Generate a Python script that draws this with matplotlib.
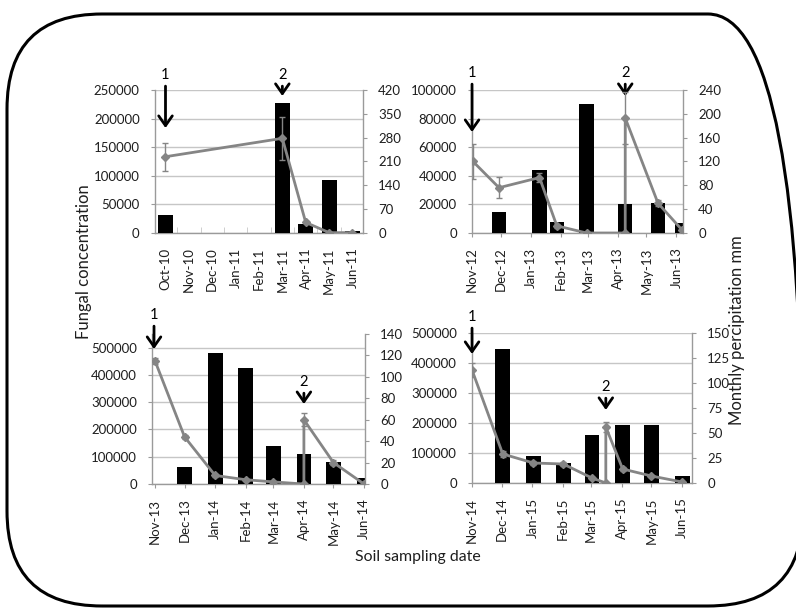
import matplotlib
matplotlib.use("Agg")
import matplotlib.pyplot as plt
import matplotlib.dates as mdates
from matplotlib.patches import FancyBboxPatch
from matplotlib.ticker import MultipleLocator, StrMethodFormatter, FixedLocator
import numpy as np
import pandas as pd

plt.rcParams['font.family'] = ['Lato', 'DejaVu Sans']

# --- panel 1: Oct-10 .. Jun-11 (category axis)
p1_months = ["Oct-10", "Nov-10", "Dec-10", "Jan-11", "Feb-11",
             "Mar-11", "Apr-11", "May-11", "Jun-11"]
p1_fungal = [32000, 0, 0, 0, 0, 227000, 15000, 93000, 3000]
p1_rain = [224, None, None, None, None, 278, 31, 1, 1]
p1_rain_err = [41, None, None, None, None, 64, 3, 0, 0]
p1_events = [("1", 0), ("2", 5)]

# --- panel 2: Nov-12 .. Jun-13 (date axis)
p2_bar_dates = ["2012-11-29", "2013-01-10", "2013-01-28", "2013-02-28",
                "2013-04-09", "2013-05-13", "2013-06-07"]
p2_fungal = [14500, 44000, 7700, 90000, 20000, 21000, 7200]
p2_rain_dates = ["2012-11-02", "2012-11-29", "2013-01-10", "2013-01-28",
                 "2013-02-28", "2013-04-09", "2013-04-09", "2013-05-13",
                 "2013-06-07"]
p2_rain = [120, 76, 93, 12, 0, 0, 193, 50, 5]
p2_rain_err = [30, 18, 8, 3, 0, 0, 44, 5, 1]
p2_events = [("1", "2012-11-01"), ("2", "2013-04-09")]

# --- panel 3: Nov-13 .. Jun-14
p3_bar_dates = ["2013-12-01", "2014-01-01", "2014-02-01", "2014-03-01",
                "2014-04-01", "2014-05-01", "2014-06-01"]
p3_fungal = [62000, 480000, 425000, 140000, 109000, 82000, 22000]
p3_rain_dates = ["2013-11-01", "2013-12-01", "2014-01-01", "2014-02-01",
                 "2014-03-01", "2014-04-01", "2014-04-01", "2014-05-01",
                 "2014-06-01"]
p3_rain = [115, 44, 8, 4, 2, 0, 60, 20, 0]
p3_rain_err = [3, 2, 1, 1, 1, 0, 6, 2, 0]
p3_events = [("1", "2013-10-31"), ("2", "2014-04-01")]

# --- panel 4: Nov-14 .. Jun-15
p4_bar_dates = ["2014-12-02", "2015-01-02", "2015-02-01", "2015-03-02",
                "2015-04-02", "2015-05-01", "2015-06-01"]
p4_fungal = [448000, 90000, 68000, 161000, 192000, 192000, 24000]
p4_rain_dates = ["2014-11-01", "2014-12-02", "2015-01-02", "2015-02-01",
                 "2015-03-02", "2015-03-16", "2015-03-16", "2015-04-02",
                 "2015-05-01", "2015-06-01"]
p4_rain = [113, 29, 20, 19, 5, 0, 56, 14, 7, 1]
p4_rain_err = [7, 3, 2, 2, 1, 0, 5, 2, 1, 0]
p4_events = [("1", "2014-11-01"), ("2", "2015-03-16")]

GRID = "#c6c6c6"
AXC = "#9a9a9a"
LINEC = "#858585"
TXT = "#1e1e1e"
FS = 9.5

fig = plt.figure(figsize=(7.96, 6.08), dpi=100)

# rounded frame
frame = FancyBboxPatch((0.07, 0.02), 7.96, 5.92,
                       boxstyle="round,pad=0,rounding_size=0.95",
                       transform=fig.dpi_scale_trans, fill=False,
                       ec="black", lw=2.2, clip_on=False)
fig.add_artist(frame)


def make_panel(rect, ymax, ystep, y2max, y2step):
    ax = fig.add_axes(rect)
    ax2 = ax.twinx()
    ax.set_ylim(0, ymax)
    ax2.set_ylim(0, y2max)
    ax.yaxis.set_major_locator(MultipleLocator(ystep))
    ax2.yaxis.set_major_locator(MultipleLocator(y2step))
    ax.yaxis.set_major_formatter(StrMethodFormatter("{x:.0f}"))
    ax2.yaxis.set_major_formatter(StrMethodFormatter("{x:.0f}"))
    ax.yaxis.grid(True, color=GRID, lw=1)
    ax.set_axisbelow(True)
    for a in (ax, ax2):
        a.spines["top"].set_visible(False)
        for s in a.spines.values():
            s.set_color(AXC)
            s.set_linewidth(1)
    ax.spines["right"].set_visible(False)
    ax2.spines["left"].set_visible(False)
    ax2.spines["bottom"].set_visible(False)
    ax.tick_params(axis="y", direction="out", length=3, pad=8, color=AXC,
                   labelsize=FS, labelcolor=TXT)
    ax2.tick_params(axis="y", direction="out", length=3, pad=8, color=AXC,
                    labelsize=FS, labelcolor=TXT)
    return ax, ax2


def draw_line(ax2, x, y, err):
    ax2.errorbar(x, y, yerr=err, fmt="-D", color=LINEC, ecolor=LINEC,
                 lw=2, ms=4.5, elinewidth=1, capsize=2, zorder=4)


def mark_events(ax2, events, ytext, ytip):
    for (lab, x), yt, yp in zip(events, ytext, ytip):
        ax2.annotate(lab, xy=(x, yp), xytext=(x, yt),
                     xycoords=("data", "axes fraction"),
                     textcoords=("data", "axes fraction"),
                     ha="center", va="center", fontsize=10.5, color="black",
                     annotation_clip=False,
                     arrowprops=dict(arrowstyle="->,head_length=0.5,head_width=0.35",
                                     color="black", lw=2, shrinkA=1, shrinkB=0,
                                     mutation_scale=14))


def date_axis(ax, x0, x1):
    ax.set_xlim(pd.Timestamp(x0), pd.Timestamp(x1))
    ax.xaxis.set_major_locator(mdates.MonthLocator())
    ax.xaxis.set_major_formatter(mdates.DateFormatter("%b-%y"))
    ax.tick_params(axis="x", direction="out", length=3, pad=7.5, color=AXC,
                   labelsize=FS, labelcolor=TXT, labelrotation=90)


# panel 1
ax, ax2 = make_panel([0.1947, 0.6168, 0.2613, 0.2352], 250000, 50000, 420, 70)
xc = np.arange(len(p1_months))
ax.bar(xc, p1_fungal, width=0.64, color="black", zorder=3)
r = np.array([np.nan if v is None else v for v in p1_rain], dtype=float)
e = np.array([np.nan if v is None else v for v in p1_rain_err], dtype=float)
ok = np.isfinite(r)
draw_line(ax2, xc[ok], r[ok], e[ok])
ax.set_xlim(-0.45, 8.45)
ax.set_xticks(xc)
ax.set_xticklabels(p1_months)
ax.xaxis.set_minor_locator(FixedLocator(xc[:-1] + 0.5))
ax.tick_params(axis="x", which="major", length=0, pad=10.5, labelsize=FS,
               labelcolor=TXT, labelrotation=90)
ax.tick_params(axis="x", which="minor", direction="in", length=4, color=GRID)
mark_events(ax2, p1_events, [1.105, 1.105], [0.734, 0.958])

# panel 2
ax, ax2 = make_panel([0.5930, 0.6168, 0.2651, 0.2352], 100000, 20000, 240, 40)
ax.bar(pd.to_datetime(p2_bar_dates), p2_fungal, width=15, color="black", zorder=3)
draw_line(ax2, pd.to_datetime(p2_rain_dates), p2_rain, p2_rain_err)
date_axis(ax, "2012-11-01", "2013-06-08")
mark_events(ax2, [(l, pd.Timestamp(d)) for l, d in p2_events],
            [1.119, 1.119], [0.706, 0.958])

# panel 3
ax, ax2 = make_panel([0.1910, 0.2039, 0.2676, 0.2467], 550000, 100000, 140, 20)
ax.bar(pd.to_datetime(p3_bar_dates), p3_fungal, width=15, color="black", zorder=3)
draw_line(ax2, pd.to_datetime(p3_rain_dates), p3_rain, p3_rain_err)
date_axis(ax, "2013-10-29", "2014-06-02")
mark_events(ax2, [(l, pd.Timestamp(d)) for l, d in p3_events],
            [1.127, 0.68], [0.90, 0.533])

# panel 4
ax, ax2 = make_panel([0.5930, 0.2056, 0.2764, 0.2467], 500000, 100000, 150, 25)
ax.bar(pd.to_datetime(p4_bar_dates), p4_fungal, width=15, color="black", zorder=3)
draw_line(ax2, pd.to_datetime(p4_rain_dates), p4_rain, p4_rain_err)
date_axis(ax, "2014-11-01", "2015-06-11")
mark_events(ax2, [(l, pd.Timestamp(d)) for l, d in p4_events],
            [1.107, 0.64], [0.86, 0.487])

# shared labels
fig.text(84 / 796, 1 - 262 / 608, "Fungal concentration", rotation=90,
         ha="center", va="center", fontsize=12, color=TXT)
fig.text(737 / 796, 1 - 330 / 608, "Monthly percipitation mm", rotation=90,
         ha="center", va="center", fontsize=12, color=TXT)
fig.text(418 / 796, 1 - 557 / 608, "Soil sampling date",
         ha="center", va="center", fontsize=11.4, color=TXT)

fig.savefig("out.png", dpi=100)
